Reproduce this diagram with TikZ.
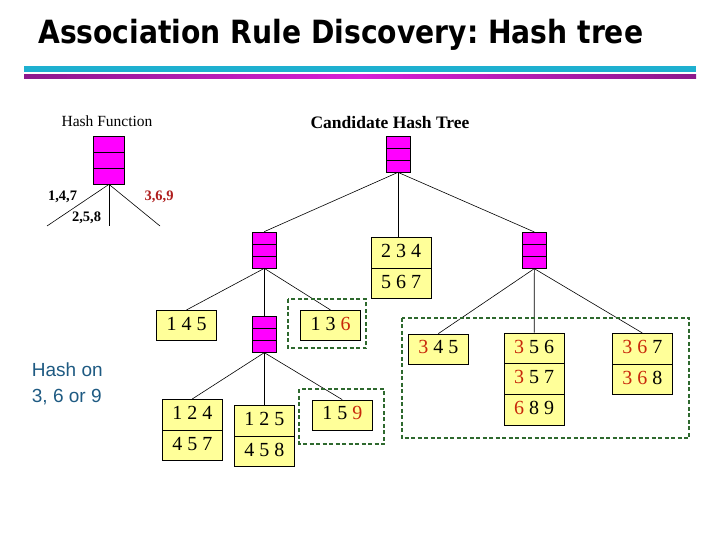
\documentclass[tikz,border=0pt]{standalone}
\usepackage{fontspec}
\setmainfont{Liberation Serif}
\setsansfont{Liberation Sans}
\newfontfamily\titlefont{DejaVu Sans}
\usetikzlibrary{shapes.multipart,calc}
\frenchspacing

\definecolor{hmag}{RGB}{255,0,255}
\definecolor{cellyel}{RGB}{255,255,153}
\definecolor{dred}{RGB}{200,40,10}
\definecolor{lred}{RGB}{175,30,30}
\definecolor{dgreen}{RGB}{46,105,46}
\definecolor{hblue}{RGB}{30,90,130}
\definecolor{cyanbar}{RGB}{30,176,208}
\definecolor{purp}{RGB}{140,26,140}
\definecolor{magbar}{RGB}{215,30,215}

\newcommand{\cellstrut}{\rule[-4pt]{0pt}{17.5pt}}

\tikzset{
  hashbox/.style={draw, fill=hmag, minimum width=24pt, minimum height=36pt, inner sep=0pt, line width=0.7pt,
    path picture={
      \draw[line width=0.7pt] ($(path picture bounding box.north west)!1/3!(path picture bounding box.south west)$) -- ($(path picture bounding box.north east)!1/3!(path picture bounding box.south east)$);
      \draw[line width=0.7pt] ($(path picture bounding box.north west)!2/3!(path picture bounding box.south west)$) -- ($(path picture bounding box.north east)!2/3!(path picture bounding box.south east)$);
    }},
  itembox/.style={draw, fill=cellyel, line width=0.7pt, minimum width=60pt, inner xsep=4pt, inner ysep=6.25pt,
    font=\fontsize{20}{24}\selectfont},
  itemsplit/.style={itembox, rectangle split, rectangle split parts=#1},
  conn/.style={line width=0.6pt},
  grp/.style={draw=dgreen, dash pattern=on 4pt off 2.5pt, line width=1.8pt},
  lbl/.style={font=\bfseries\fontsize{14.5}{16}\selectfont, inner sep=1pt},
}

\begin{document}
\begin{tikzpicture}[x=1pt,y=-1pt]
\useasboundingbox (0,0) rectangle (720,540);

% title and bars
\node[anchor=base west, inner sep=0pt] (title) at (38,44) {\resizebox{605pt}{\height}{\titlefont\bfseries\fontsize{32}{36}\selectfont Association Rule Discovery: Hash tree}};
\fill[cyanbar] (24,66) rectangle (696,71.7);
\shade[left color=purp, right color=purp, middle color=magbar] (24,75) rectangle (696,79);

% hash function
\node[font=\fontsize{15.5}{18}\selectfont] (hflabel) at (107,121) {Hash Function};
\node[hashbox, minimum width=30.4pt, minimum height=48pt] (hf) at (109,160) {};
\coordinate (hfL) at (47,226);
\coordinate (hfM) at (109,226);
\coordinate (hfR) at (160,226);
\draw[conn] (hf.south) -- (hfL);
\draw[conn] (hf.south) -- (hfM);
\draw[conn] (hf.south) -- (hfR);
\node[lbl] (l147) at (62.5,197) {1,4,7};
\node[lbl, text=lred] (l369) at (159,197) {3,6,9};
\node[lbl] (l258) at (86.5,218) {2,5,8};

% candidate hash tree
\node[font=\bfseries\fontsize{17.5}{20}\selectfont] (cht) at (390,122.5) {Candidate Hash Tree};
\node[hashbox] (root) at (398,154) {};
\node[itemsplit=2] (b234) at (401,268) {\cellstrut 2 3 4\nodepart{two}\cellstrut 5 6 7};
\node[hashbox] (L1) at (264.3,250) {};
\node[hashbox] (R1) at (534.3,250.3) {};
\draw[conn] (root.south) -- (root.south |- b234.north);
\draw[conn] (root.south) -- (L1.north);
\draw[conn] (root.south) -- (R1.north);

% left subtree
\node[itembox] (b145) at (186.5,325.3) {\cellstrut 1 4 5};
\node[itembox] (b136) at (330.5,325.3) {\cellstrut 1 3 {\color{dred}6}};
\node[hashbox] (L2) at (264.3,334.3) {};
\draw[conn] (L1.south) -- (b145.north);
\draw[conn] (L1.south) -- (L2.north);
\draw[conn] (L1.south) -- (b136.north);
\draw[grp] (287.7,299.3) rectangle (366.3,348);

\node[itemsplit=2] (b124) at (192.3,430) {\cellstrut 1 2 4\nodepart{two}\cellstrut 4 5 7};
\node[itemsplit=2] (b125) at (264.3,436) {\cellstrut 1 2 5\nodepart{two}\cellstrut 4 5 8};
\node[itembox] (b159) at (342.3,415) {\cellstrut 1 5 {\color{dred}9}};
\draw[conn] (L2.south) -- (b124.north);
\draw[conn] (L2.south) -- (b125.north);
\draw[conn] (L2.south) -- (b159.north);
\draw[grp] (299.3,389.3) rectangle (384.3,444);

% right subtree
\node[itembox] (b345) at (438.3,349) {\cellstrut{\color{dred}3} 4 5};
\node[itemsplit=3] (b356) at (534.2,379) {\cellstrut{\color{dred}3} 5 6\nodepart{two}\cellstrut{\color{dred}3} 5 7\nodepart{three}\cellstrut{\color{dred}6} 8 9};
\node[itemsplit=2] (b367) at (642.3,364) {\cellstrut{\color{dred}3 6} 7\nodepart{two}\cellstrut{\color{dred}3 6} 8};
\draw[conn] (R1.south) -- (b345.north);
\draw[conn] (R1.south) -- (b356.north);
\draw[conn] (R1.south) -- (b367.north);
\draw[grp] (401.7,317.7) rectangle (689,438.3);

% side note
\node[anchor=north west, align=left, inner sep=0pt, text=hblue, font=\sffamily\fontsize{19}{25.5}\selectfont] (hashon) at (31.7,362.7) {Hash on\\3, 6 or 9};
\end{tikzpicture}
\end{document}
